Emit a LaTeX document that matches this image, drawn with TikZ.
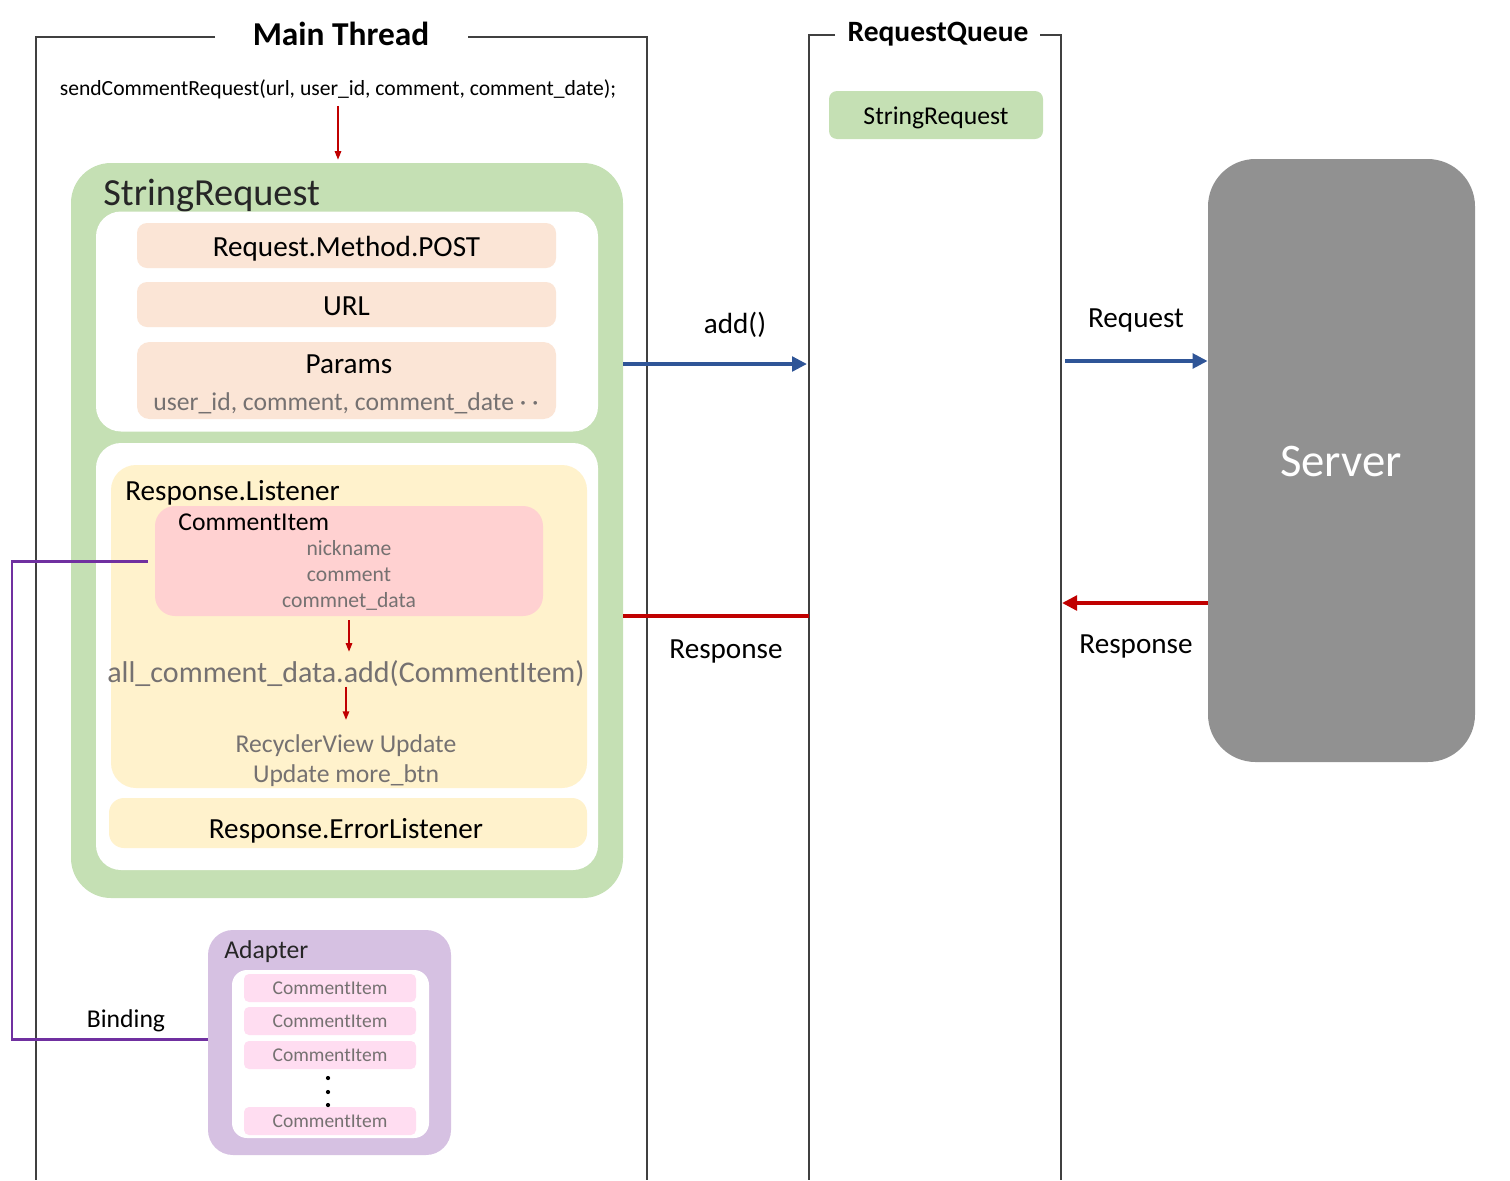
\documentclass[tikz,border=0pt]{standalone}
\usepackage{fontspec}
\setmainfont{Carlito}
\usetikzlibrary{arrows.meta}
\definecolor{framegray}{HTML}{404040}
\definecolor{boxgreen}{HTML}{C5E0B4}
\definecolor{boxpeach}{HTML}{FBE5D6}
\definecolor{boxyellow}{HTML}{FFF2CC}
\definecolor{itemred}{HTML}{FFD1D1}
\definecolor{itempink}{HTML}{FFDDF1}
\definecolor{adapterpurple}{HTML}{D6C1E2}
\definecolor{servergray}{HTML}{919191}
\definecolor{graytext}{HTML}{757171}
\definecolor{titletext}{HTML}{262626}
\definecolor{reqblue}{HTML}{2F5597}
\definecolor{resred}{HTML}{C00000}
\definecolor{bindpurple}{HTML}{7030A0}
\tikzset{
        frame/.style={draw=framegray, line width=1.1pt},
        panel/.style={rounded corners=#1, inner sep=0pt},
        sz/.style 2 args={minimum width=#1*0.02cm, minimum height=#2*0.02cm},
        lbl/.style={anchor=base, inner sep=0pt, text=black},
        graylbl/.style={lbl, text=graytext},
        thread/.style={lbl, font=\bfseries\fontsize{19pt}{23pt}\selectfont},
        bigtxt/.style={font=\fontsize{16.6pt}{20pt}\selectfont},
        midtxt/.style={font=\fontsize{14.6pt}{17.5pt}\selectfont},
        smalltxt/.style={font=\fontsize{12.3pt}{14.8pt}\selectfont},
        bluearrow/.style={draw=reqblue, line width=2.4pt, -{Triangle[length=0.3cm, width=0.29cm]}},
        redarrow/.style={draw=resred, line width=2.3pt, -{Triangle[length=0.3cm, width=0.29cm]}},
        redline/.style={draw=resred, line width=2.3pt},
        smallarrow/.style={draw=resred, line width=0.75pt, -{Triangle[length=0.17cm, width=0.13cm]}},
        bindline/.style={draw=bindpurple, line width=1.7pt}
          }
\begin{document}
\begin{tikzpicture}[x=0.02cm, y=-0.02cm]
        \useasboundingbox (0,0) rectangle (1510,1180);

        % lifelines
        \draw[frame] (215,37) -- (36,37) -- (36,1180);
        \draw[frame] (468,37) -- (647,37) -- (647,1180);
        \draw[frame] (835,35) -- (809,35) -- (809,1180);
        \draw[frame] (1040,35) -- (1061,35) -- (1061,1180);
        \node[thread] (mainlbl) at (341,45) {Main Thread};
        \node[thread, font=\bfseries\fontsize{16.8pt}{20pt}\selectfont] (queuelbl) at (938,41) {RequestQueue};

        % request queue
        \node[panel=0.16cm, fill=boxgreen, sz={214}{48}] (qitem) at (936,115) {};
        \node[lbl, midtxt] (qitemlbl) at (936,124) {StringRequest};

        % server
        \node[panel=0.95cm, fill=servergray, sz={267}{603}] (server) at (1341.5,460.5) {};
        \node[lbl, text=white, font=\fontsize{26.6pt}{30pt}\selectfont] (serverlbl) at (1341,476) {Server};

        % main thread
        \node[lbl, font=\fontsize{12.3pt}{15pt}\selectfont] (send) at (338,95) {sendCommentRequest(url, user\_id, comment, comment\_date);};
        \node[panel=0.8cm, fill=boxgreen, sz={552}{735}] (strreq) at (347,530.5) {};
        \node[lbl, anchor=base west, text=titletext, font=\fontsize{21.8pt}{26pt}\selectfont] (strreqlbl) at (103,205) {StringRequest};
        \draw[smallarrow, shorten <=0.14cm, shorten >=0.06cm] (send.south) -- (send.south |- strreq.north);

        \node[panel=0.5cm, fill=white, sz={502}{220}] (reqpart) at (347,321.5) {};
        \node[panel=0.2cm, fill=boxpeach, sz={419}{45}] (method) at (346.5,245.5) {};
        \node[lbl, bigtxt] (methodlbl) at (346.5,256) {Request.Method.POST};
        \node[panel=0.2cm, fill=boxpeach, sz={419}{45}] (url) at (346.5,304.5) {};
        \node[lbl, bigtxt] (urllbl) at (346.5,315) {URL};
        \node[panel=0.25cm, fill=boxpeach, sz={419}{77}] (params) at (346.5,380.5) {};
        \node[lbl, bigtxt] (paramslbl) at (349,373) {Params};
        \node[graylbl, midtxt] (paramsval) at (346,410) {user\_id, comment, comment\_date · ·};

        \node[panel=0.5cm, fill=white, sz={502}{427}] (respart) at (347,656.5) {};
        \node[panel=0.5cm, fill=boxyellow, sz={476}{323}] (listener) at (349,626.5) {};
        \node[lbl, bigtxt, anchor=base west] (listenerlbl) at (125,500) {Response.Listener};
        \node[panel=0.4cm, fill=itemred, sz={388}{110}] (citem) at (349,561) {};
        \node[lbl, midtxt, anchor=base west] (citemlbl) at (178,530) {CommentItem};
        \node[graylbl, smalltxt] (nick) at (349,555) {nickname};
        \node[graylbl, smalltxt] (comm) at (349,581) {comment};
        \node[graylbl, smalltxt] (cdate) at (349,607) {commnet\_data};
        \node[graylbl, font=\fontsize{17.1pt}{20pt}\selectfont] (alladd) at (346,682) {all\_comment\_data.add(CommentItem)};
        \node[graylbl, midtxt] (recycle) at (346,752) {RecyclerView Update};
        \node[graylbl, midtxt] (morebtn) at (346,782) {Update more\_btn};
        \draw[smallarrow, shorten <=0.08cm, shorten >=0.16cm] (citem.south) -- (citem.south |- alladd.north);
        \draw[smallarrow, shorten >=0.28cm] (alladd.south -| recycle.north) -- (recycle.north);
        \node[panel=0.3cm, fill=boxyellow, sz={478}{50}] (errlistener) at (348,823) {};
        \node[lbl, bigtxt] (errlbl) at (346,838) {Response.ErrorListener};

        % adapter
        \node[panel=0.5cm, fill=adapterpurple, sz={243}{225}] (adapter) at (329.5,1042.5) {};
        \node[lbl, midtxt, anchor=base west, text=titletext] (adapterlbl) at (224,958) {Adapter};
        \node[panel=0.3cm, fill=white, sz={197}{168}] (adlist) at (330.5,1054) {};
        \foreach \y/\n in {988/1,1021/2,1055/3,1121/4} {
          \node[panel=0.1cm, fill=itempink, sz={172}{28}] (item\n) at (330,\y) {};
          \node[graylbl, font=\fontsize{11.1pt}{13pt}\selectfont] (itemlbl\n) at (330,{\y+6}) {CommentItem};
        }
        \foreach \y in {1078,1092,1105}
          \fill (328,\y) circle (1.2pt);

        % binding
        \coordinate (bindx) at (12,0);
        \draw[bindline, shorten <=0.14cm] (citem.west) -- (citem.west -| bindx) |- ([yshift=0.07cm]adapter.west);
        \node[lbl, midtxt] (bindlbl) at (126,1027) {Binding};

        % messages
        \coordinate (addend) at (807,364);
        \draw[bluearrow] (strreq.east |- addend) -- (addend);
        \node[lbl, bigtxt] (addlbl) at (735,333) {add()};
        \coordinate (reqstart) at (1065,361);
        \draw[bluearrow] (reqstart) -- (reqstart -| server.west);
        \node[lbl, bigtxt] (reqlbl) at (1136,327) {Request};
        \coordinate (resend) at (1062,603);
        \draw[redarrow] (resend -| server.west) -- (resend);
        \node[lbl, bigtxt] (reslbl) at (1136,653) {Response};
        \coordinate (resq) at (809,616);
        \draw[redline] (resq) -- (resq -| strreq.east);
        \node[lbl, bigtxt] (resqlbl) at (726,658) {Response};
      \end{tikzpicture}
\end{document}
